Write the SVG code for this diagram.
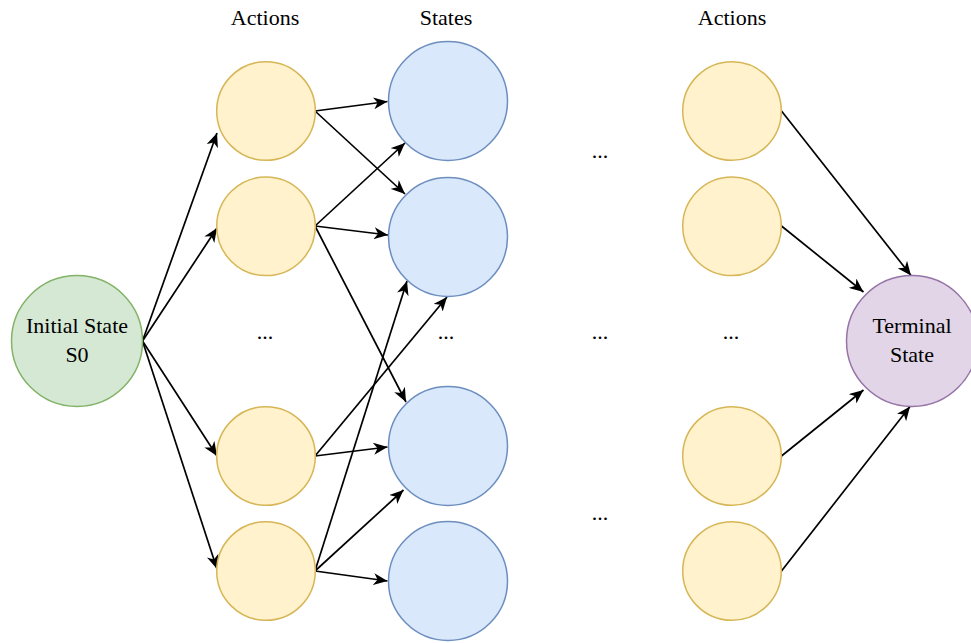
<svg xmlns="http://www.w3.org/2000/svg" width="971" height="643" viewBox="0 0 971 643">
  <style>
    .lbl { font-family: "Liberation Serif", "Times New Roman", serif; font-size: 22px; fill: #000000; text-anchor: middle; }
    .init { fill: #d5e8d4; stroke: #82b366; stroke-width: 1.5; }
    .act { fill: #fff2cc; stroke: #d6b656; stroke-width: 1.5; }
    .state { fill: #dae8fc; stroke: #6c8ebf; stroke-width: 1.5; }
    .term { fill: #e1d5e7; stroke: #9673a6; stroke-width: 1.5; }
    .edge { stroke: #000000; stroke-width: 1.7; fill: none; marker-end: url(#arrow); }
  </style>
  <defs>
    <marker id="arrow" viewBox="0 0 14 12" refX="14" refY="6" markerWidth="14" markerHeight="12" markerUnits="userSpaceOnUse" orient="auto">
      <path d="M14,6 L0,0 L4,6 L0,12 Z" fill="#000000"/>
    </marker>
  </defs>

  <rect x="0" y="0" width="971" height="643" fill="#ffffff"/>

  <!-- column headers -->
  <g id="headers">
    <text class="lbl" x="265" y="25">Actions</text>
    <text class="lbl" x="446" y="25">States</text>
    <text class="lbl" x="732" y="25">Actions</text>
  </g>

  <!-- ellipsis markers -->
  <g id="ellipses">
    <text class="lbl" x="265" y="339">...</text>
    <text class="lbl" x="446" y="339">...</text>
    <text class="lbl" x="600" y="339">...</text>
    <text class="lbl" x="731" y="339">...</text>
    <text class="lbl" x="600" y="158">...</text>
    <text class="lbl" x="600" y="520">...</text>
  </g>

  <!-- connectors -->
  <g id="edges">
    <!-- initial state to first actions -->
    <line class="edge" x1="142.5" y1="341" x2="217" y2="133"/>
    <line class="edge" x1="142.5" y1="341" x2="217" y2="228"/>
    <line class="edge" x1="142.5" y1="341" x2="217" y2="456"/>
    <line class="edge" x1="142.5" y1="341" x2="217" y2="569"/>
    <!-- actions to states -->
    <line class="edge" x1="315" y1="111" x2="387.5" y2="101.5"/>
    <line class="edge" x1="315" y1="111" x2="405" y2="194"/>
    <line class="edge" x1="315" y1="226" x2="405" y2="143"/>
    <line class="edge" x1="315" y1="226" x2="388" y2="235"/>
    <line class="edge" x1="315" y1="226" x2="406" y2="402"/>
    <line class="edge" x1="315" y1="456" x2="447" y2="297"/>
    <line class="edge" x1="315" y1="456" x2="387.5" y2="447"/>
    <line class="edge" x1="315" y1="571" x2="407" y2="281"/>
    <line class="edge" x1="315" y1="571" x2="403.5" y2="490"/>
    <line class="edge" x1="315" y1="571" x2="387.5" y2="581"/>
    <!-- last actions to terminal state -->
    <line class="edge" x1="781.5" y1="111" x2="911" y2="275.5"/>
    <line class="edge" x1="781.5" y1="226" x2="863.5" y2="292"/>
    <line class="edge" x1="781.5" y1="456" x2="863.5" y2="390"/>
    <line class="edge" x1="781.5" y1="571" x2="910" y2="406.5"/>
  </g>

  <g id="initial">
    <circle class="init" cx="77" cy="341" r="65.5"/>
    <text class="lbl" x="77" y="333">Initial State</text>
    <text class="lbl" x="77" y="362">S0</text>
  </g>

  <g id="action-1-1"><circle class="act" cx="266" cy="111" r="49.3"/></g>
  <g id="action-1-2"><circle class="act" cx="266" cy="226.3" r="49.3"/></g>
  <g id="action-1-3"><circle class="act" cx="266" cy="456" r="49.3"/></g>
  <g id="action-1-4"><circle class="act" cx="266" cy="571" r="49.3"/></g>

  <g id="state-1"><circle class="state" cx="448" cy="101" r="59.5"/></g>
  <g id="state-2"><circle class="state" cx="448" cy="237" r="59.5"/></g>
  <g id="state-3"><circle class="state" cx="448" cy="446" r="59.5"/></g>
  <g id="state-4"><circle class="state" cx="448" cy="581" r="59.5"/></g>

  <g id="action-n-1"><circle class="act" cx="732" cy="111" r="49.3"/></g>
  <g id="action-n-2"><circle class="act" cx="732" cy="226.3" r="49.3"/></g>
  <g id="action-n-3"><circle class="act" cx="732" cy="456" r="49.3"/></g>
  <g id="action-n-4"><circle class="act" cx="732" cy="571" r="49.3"/></g>

  <g id="terminal">
    <circle class="term" cx="912" cy="341" r="65.5"/>
    <text class="lbl" x="912" y="333">Terminal</text>
    <text class="lbl" x="912" y="362">State</text>
  </g>
</svg>
